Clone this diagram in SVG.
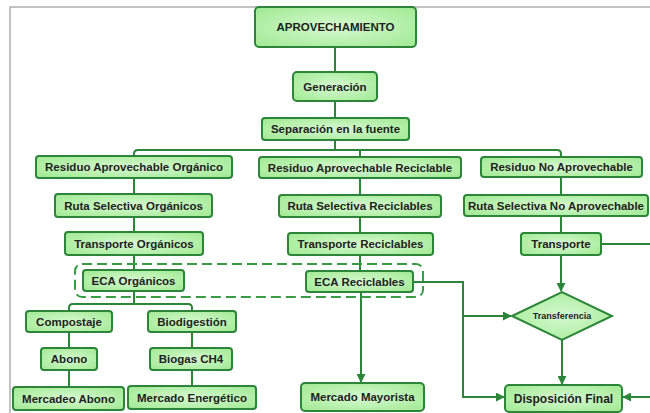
<svg xmlns="http://www.w3.org/2000/svg" width="650" height="413" viewBox="0 0 650 413">
<defs>
<radialGradient id="g" cx="50%" cy="50%" r="70%">
<stop offset="0%" stop-color="#d6fad0"/>
<stop offset="100%" stop-color="#9fe991"/>
</radialGradient>
<marker id="arr" viewBox="0 0 10 10" refX="9" refY="5" markerWidth="4.5" markerHeight="4.5" orient="auto">
<path d="M0,0 L10,5 L0,10 z" fill="#2c8538"/>
</marker>
</defs>
<style>
.b{fill:url(#g);stroke:#2c8538;stroke-width:2}
.t{font-family:"Liberation Sans",Arial,sans-serif;font-weight:bold;font-size:11.5px;fill:#222;text-anchor:middle;dominant-baseline:central}
.c{fill:none;stroke:#2c8538;stroke-width:2}
.a{marker-end:url(#arr)}
.d{fill:none;stroke:#3a9a46;stroke-width:2;stroke-dasharray:10,5}
</style>
<rect width="650" height="413" fill="#ffffff"/>
<path d="M10,413 V7 H650" fill="none" stroke="#b0b0b0" stroke-width="1.5"/>

<g id="connectors">
<path class="c" d="M335,47 V72 M335,101 V118 M335,140 V150"/>
<path class="c" d="M134,156 V154 Q134,150 138,150 H557 Q561,150 561,154 V157 M360,150 V157"/>
<path class="c" d="M134,178 V194 M134,217 V232 M134,255 V270 M134,291 V304"/>
<path class="c" d="M69,311 V308 Q69,304 73,304 H188 Q192,304 192,308 V311"/>
<path class="c" d="M69,332 V348 M69,370 V387 M192,332 V348 M192,370 V386"/>
<path class="c" d="M360,178 V195 M360,217 V233 M360,255 V271"/>
<path class="c a" d="M361,292 V382"/>
<path class="c a" d="M413,282 H463 V397 H504"/>
<path class="c a" d="M463,316 H511"/>
<path class="c" d="M561,177 V195 M561,216 V233"/>
<path class="c a" d="M561,255 V291"/>
<path class="c a" d="M562,340 V384"/>
<path class="c" d="M601,244 H650"/>
<path class="c a" d="M650,397 H623"/>
<rect class="d" x="75" y="264" width="348" height="33" rx="7"/>
</g>

<g id="n1"><rect class="b" x="255" y="7" width="161" height="40" rx="4"/><text class="t" x="335.5" y="27">APROVECHAMIENTO</text></g>
<g id="n2"><rect class="b" x="293" y="72" width="84" height="29" rx="4"/><text class="t" x="335" y="86.5">Generación</text></g>
<g id="n3"><rect class="b" x="262" y="118" width="147" height="22" rx="3"/><text class="t" x="335.5" y="129">Separación en la fuente</text></g>
<g id="n4"><rect class="b" x="36" y="156" width="196" height="22" rx="3"/><text class="t" x="134" y="167">Residuo Aprovechable Orgánico</text></g>
<g id="n5"><rect class="b" x="259" y="157" width="202" height="21" rx="3"/><text class="t" x="360" y="167.5">Residuo Aprovechable Reciclable</text></g>
<g id="n6"><rect class="b" x="481" y="157" width="161" height="20" rx="3"/><text class="t" x="561.5" y="167">Residuo No Aprovechable</text></g>
<g id="n7"><rect class="b" x="55" y="194" width="157" height="23" rx="3"/><text class="t" x="133.5" y="205.5">Ruta Selectiva Orgánicos</text></g>
<g id="n8"><rect class="b" x="279" y="195" width="162" height="22" rx="3"/><text class="t" x="360" y="206">Ruta Selectiva Reciclables</text></g>
<g id="n9"><rect class="b" x="464" y="195" width="184" height="21" rx="3"/><text class="t" x="556" y="205.5">Ruta Selectiva No Aprovechable</text></g>
<g id="n10"><rect class="b" x="65" y="232" width="138" height="23" rx="3"/><text class="t" x="134" y="243.5">Transporte Orgánicos</text></g>
<g id="n11"><rect class="b" x="288" y="233" width="145" height="22" rx="3"/><text class="t" x="360.5" y="244">Transporte Reciclables</text></g>
<g id="n12"><rect class="b" x="521" y="233" width="80" height="22" rx="3"/><text class="t" x="561" y="244">Transporte</text></g>
<g id="n13"><rect class="b" x="83" y="270" width="101" height="21" rx="3"/><text class="t" x="133.5" y="280.5">ECA Orgánicos</text></g>
<g id="n14"><rect class="b" x="306" y="271" width="107" height="21" rx="3"/><text class="t" x="359.5" y="281.5">ECA Reciclables</text></g>
<g id="n15"><rect class="b" x="26" y="311" width="86" height="21" rx="3"/><text class="t" x="69" y="321.5">Compostaje</text></g>
<g id="n16"><rect class="b" x="148" y="311" width="88" height="21" rx="3"/><text class="t" x="192" y="321.5">Biodigestión</text></g>
<g id="n17"><rect class="b" x="41" y="348" width="56" height="22" rx="3"/><text class="t" x="69" y="359">Abono</text></g>
<g id="n18"><rect class="b" x="150" y="348" width="82" height="22" rx="3"/><text class="t" x="191" y="359">Biogas CH4</text></g>
<g id="n19"><rect class="b" x="13" y="387" width="111" height="23" rx="3"/><text class="t" x="68.5" y="398.5">Mercadeo Abono</text></g>
<g id="n20"><rect class="b" x="128" y="386" width="128" height="23" rx="3"/><text class="t" x="192" y="397.5">Mercado Energético</text></g>
<g id="n21"><rect class="b" x="301" y="383" width="123" height="28" rx="4"/><text class="t" x="362.5" y="397">Mercado Mayorista</text></g>
<g id="n22"><path class="b" d="M512,316 L562,292 L612,316 L562,340 Z"/><text class="t" x="562" y="316" style="font-size:9px">Transferencia</text></g>
<g id="n23"><rect class="b" x="505" y="385" width="117" height="27" rx="4"/><text class="t" x="563.5" y="398.5" style="font-size:12px">Disposición Final</text></g>
</svg>
